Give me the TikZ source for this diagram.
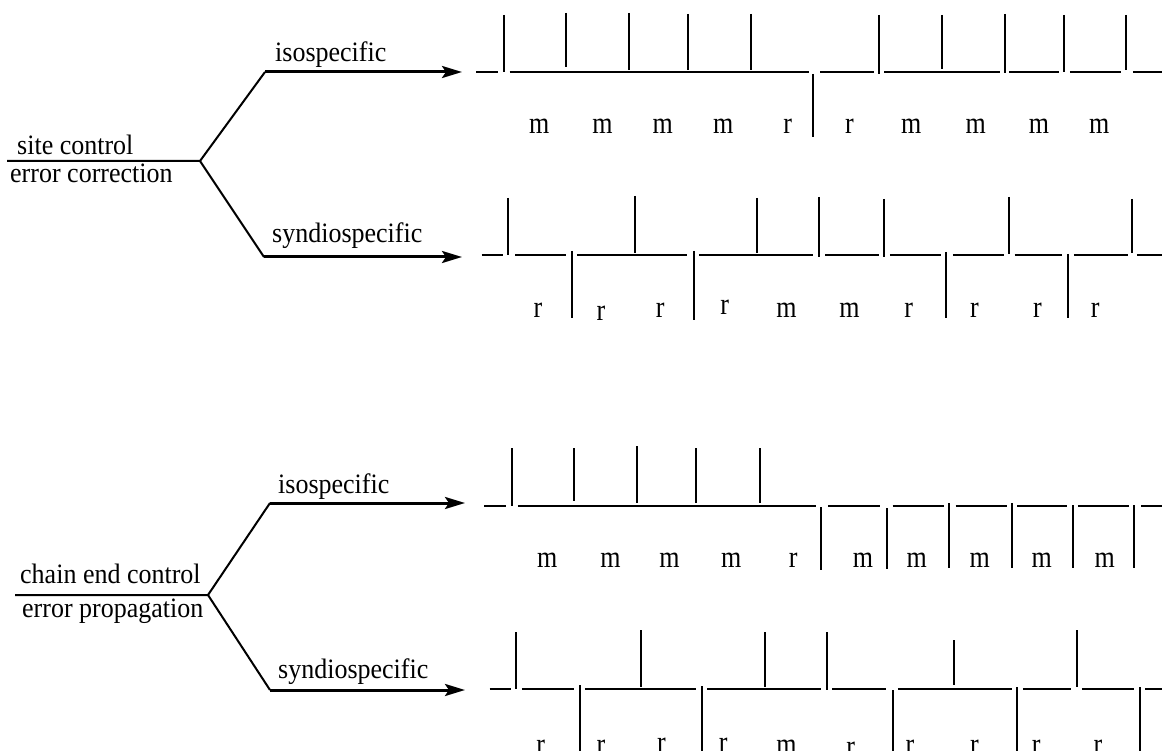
\documentclass[tikz,border=0pt]{standalone}
\usepackage{fontspec}
\usepackage{graphicx}
\setmainfont{Liberation Serif}
\usetikzlibrary{arrows.meta}

% taller-than-wide lettering for the captions and the m/r dyad labels
\newcommand{\captext}[1]{\scalebox{1}[1.08]{#1}}
\newcommand{\dyad}[1]{\scalebox{1}[1.18]{#1}}

\tikzset{
  bond/.style={line width=2pt},
  fork/.style={line width=2pt},
  route/.style={line width=3pt, -{Stealth[length=20pt,width=12pt,inset=4pt]}},
  caption/.style={inner sep=0pt, anchor=base west, font=\fontsize{26}{30}\selectfont},
  dyadlbl/.style={inner sep=0pt, anchor=base, font=\fontsize{26}{30}\selectfont},
}

\begin{document}
\begin{tikzpicture}[x=1pt,y=-1pt]
\useasboundingbox (0,0) rectangle (1162,751);
\clip (0,0) rectangle (1162,751);

% ---------------- site control / error correction ----------------
\coordinate (s0) at (7,161);
\coordinate (sfork) at (200,161);
\coordinate (siso0) at (265,72);
\coordinate (siso1) at (462,72);
\coordinate (ssyn0) at (264,257);
\coordinate (ssyn1) at (462,257);
\draw[fork] (s0) -- (sfork) -- (siso0);
\draw[fork] (sfork) -- (ssyn0);
\draw[route] (siso0) -- (siso1);
\draw[route] (ssyn0) -- (ssyn1);
\node[caption] (tsite) at (17,155) {\captext{site control}};
\node[caption] (terrc) at (10,183) {\captext{error correction}};
\node[caption] (tiso1) at (275,62) {\captext{isospecific}};
\node[caption] (tsyn1) at (272,243) {\captext{syndiospecific}};

% ---------------- chain end control / error propagation ----------------
\coordinate (c0) at (15,595);
\coordinate (cfork) at (208,595);
\coordinate (ciso0) at (270,503);
\coordinate (ciso1) at (465,503);
\coordinate (csyn0) at (270,690);
\coordinate (csyn1) at (465,690);
\draw[fork] (c0) -- (cfork) -- (ciso0);
\draw[fork] (cfork) -- (csyn0);
\draw[route] (ciso0) -- (ciso1);
\draw[route] (csyn0) -- (csyn1);
\node[caption] (tchain) at (20,583) {\captext{chain end control}};
\node[caption] (terrp) at (22,617) {\captext{error propagation}};
\node[caption] (tiso2) at (278,493) {\captext{isospecific}};
\node[caption] (tsyn2) at (278,678) {\captext{syndiospecific}};

% ---------------- chain 1: site control, isospecific ----------------
\foreach \a/\b in {476.1/497.6,509.7/809.2,820.0/873.7,884.4/999.9,1009.3/1059.0,1069.8/1120.8,1132.9/1170}
  \draw[bond] (\a,72) -- (\b,72);
\foreach \x/\t/\u in {503.9/15/72,566.1/13/67,629.2/13/70,688.3/14/70,751.4/14/70,813.2/74/137,
                      879.0/15/74,942.2/15/69,1005.3/14/73,1064.4/15/72,1126.2/15/70}
  \draw[bond] (\x,\t) -- (\x,\u);
\foreach \x/\y/\l in {539.2/134/m,602.4/134/m,662.8/134/m,723.2/134/m,787.7/134/r,
                      849.5/134/r,911.3/134/m,975.8/134/m,1038.9/134/m,1099.3/134/m}
  \node[dyadlbl] at (\x,\y) {\dyad{\l}};

% ---------------- chain 2: site control, syndiospecific ----------------
\foreach \a/\b in {481.5/503.0,515.1/566.1,576.8/687.0,699.1/813.2,825.3/879.0,889.8/940.8,
                   952.9/1004.0,1014.7/1061.7,1073.8/1127.5,1136.9/1170}
  \draw[bond] (\a,255) -- (\b,255);
\foreach \x/\t/\u in {508.4/198/255,571.5/251/318,634.6/196/253,693.7/251/320,756.8/198/253,818.5/197/257,
                      884.4/199/257,946.2/252/318,1009.3/197/254,1068.4/254/318,1131.6/199/253}
  \draw[bond] (\x,\t) -- (\x,\u);
\foreach \x/\y/\l in {537.9/318/r,601.0/321/r,660.1/318/r,724.6/315/r,786.4/318/m,
                      849.5/318/m,908.6/318/r,974.4/318/r,1037.5/318/r,1095.3/318/r}
  \node[dyadlbl] at (\x,\y) {\dyad{\l}};

% ---------------- chain 3: chain end control, isospecific ----------------
\foreach \a/\b in {484.2/505.7,517.8/815.9,828.0/880.4,892.5/943.5,955.6/1006.6,1017.4/1067.1,
                   1077.8/1128.9,1141.0/1170}
  \draw[bond] (\a,506) -- (\b,506);
\foreach \x/\t/\u in {512.4/448/506,574.2/448/501,637.3/446/503,696.4/448/503,759.5/448/503,821.3/507/570,
                      887.1/508/569,948.9/503/568,1012.0/503/568,1072.5/505/568,1134.2/505/568}
  \draw[bond] (\x,\t) -- (\x,\u);
\foreach \x/\y/\l in {547.3/567/m,610.4/567/m,669.5/567/m,731.3/567/m,793.1/567/r,
                      862.9/567/m,916.7/567/m,979.8/567/m,1041.6/567/m,1104.7/567/m}
  \node[dyadlbl] at (\x,\y) {\dyad{\l}};

% ---------------- chain 4: chain end control, syndiospecific ----------------
\foreach \a/\b in {489.5/511.0,521.8/574.2,584.9/696.4,707.1/821.3,832.0/885.8,897.9/1012.0,
                   1022.8/1071.1,1081.9/1134.2,1145.0/1170}
  \draw[bond] (\a,689) -- (\b,689);
\foreach \x/\t/\u in {516.4/632/689,579.5/685/760,641.3/630/687,701.8/686/760,764.9/632/687,826.7/632/690,
                      892.5/690/760,954.3/640/685,1017.4/687/760,1076.5/630/687,1139.6/687/760}
  \draw[bond] (\x,\t) -- (\x,\u);
\foreach \x/\y/\l in {540.6/754/r,601.0/754/r,661.5/752/r,723.2/752/r,786.4/754/m,
                      850.8/756/r,909.9/754/r,974.4/754/r,1036.2/754/r,1098.0/754/r}
  \node[dyadlbl] at (\x,\y) {\dyad{\l}};

\end{tikzpicture}
\end{document}
